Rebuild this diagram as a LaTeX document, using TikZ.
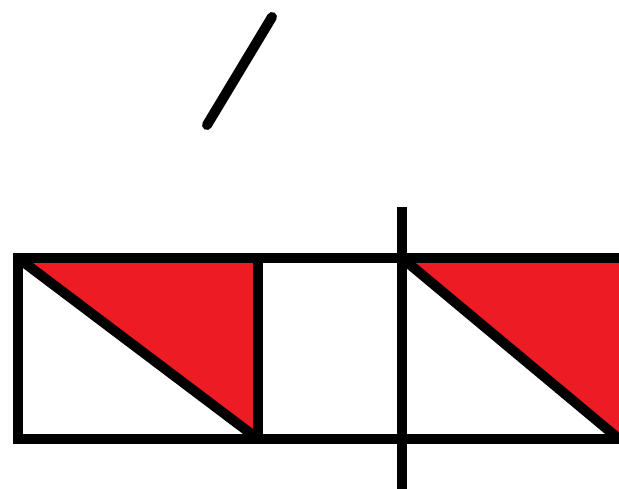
\documentclass[tikz,border=0pt]{standalone}
\definecolor{PaintRed}{HTML}{ED1C24}
\begin{document}
\begin{tikzpicture}[x=1pt, y=-1pt,
        stroke/.style={draw=black, line width=10pt},
        redpart/.style={fill=PaintRed},
        slash/.style={stroke, line cap=round}
    ]
        \useasboundingbox (0,0) rectangle (619,489);
        \clip (0,0) rectangle (619,489);
        % corners of the strip
        \coordinate (a1) at (18,258);
        \coordinate (b1) at (258,258);
        \coordinate (b2) at (258,439);
        \coordinate (c1) at (402,258);
        \coordinate (c2) at (402,439);
        \coordinate (d1) at (619,258);
        \coordinate (d2) at (619,439);
        \coordinate (e1) at (650,258);
        \coordinate (e2) at (650,439);
        \coordinate (a2) at (18,439);
        
        \fill[redpart] (a1) -- (b1) -- (b2) -- cycle;
        \fill[redpart] (c1) -- (e1) -- (e2) -- (d2) -- cycle;
        
        \draw[stroke] (e1) -- (a1) -- (a2) -- (e2);
        \draw[stroke] (b1) -- (b2);
        \draw[stroke] (a1) -- (b2);
        \draw[stroke] (c1) -- (d2);
        
        \coordinate (v1) at (402,207);
        \coordinate (v2) at (402,500);
        \draw[stroke] (v1) -- (v2);
        
        \coordinate (s1) at (207,125);
        \coordinate (s2) at (272,17);
        \draw[slash] (s1) -- (s2);
    \end{tikzpicture}
\end{document}
